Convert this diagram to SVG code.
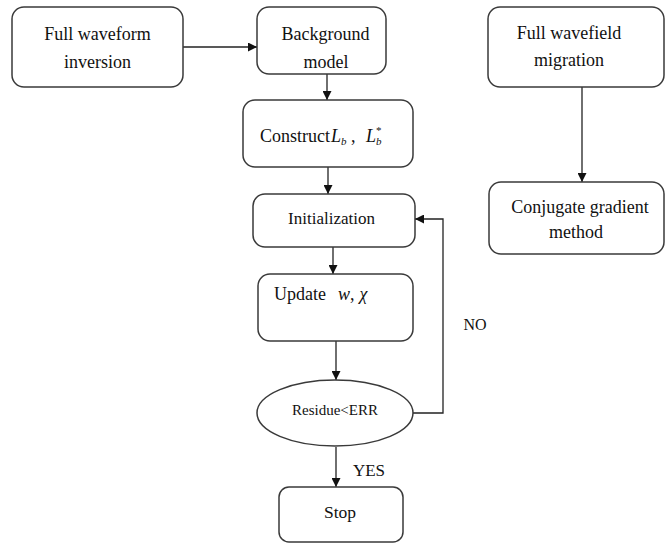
<svg xmlns="http://www.w3.org/2000/svg" width="665" height="543" viewBox="0 0 665 543">
<style>
.box{fill:#fff;stroke:#3a3a3a;stroke-width:1.5}
.t{font-family:'Liberation Serif','DejaVu Serif',serif;font-size:18px;fill:#111;text-anchor:middle}
.s{text-anchor:start}
.i{font-style:italic}
.c{fill:none;stroke:#222;stroke-width:1.3}
</style>
<defs>
<marker id="a" viewBox="0 0 10 10" refX="10" refY="5" markerWidth="9" markerHeight="9" markerUnits="userSpaceOnUse" orient="auto">
<path d="M0,0 L10,5 L0,10 z" fill="#111"/>
</marker>
</defs>
<rect width="665" height="543" fill="#fff"/>
<g id="connectors">
<line class="c" x1="183" y1="47" x2="257" y2="47" marker-end="url(#a)"/>
<line class="c" x1="327" y1="74" x2="327" y2="100" marker-end="url(#a)"/>
<line class="c" x1="328" y1="167" x2="328" y2="194" marker-end="url(#a)"/>
<line class="c" x1="333" y1="247" x2="333" y2="274" marker-end="url(#a)"/>
<line class="c" x1="336" y1="341" x2="336" y2="380" marker-end="url(#a)"/>
<line class="c" x1="336" y1="447" x2="336" y2="487" marker-end="url(#a)"/>
<polyline class="c" points="413,413 443,413 443,219 415,219" marker-end="url(#a)"/>
<line class="c" x1="582" y1="87" x2="582" y2="182" marker-end="url(#a)"/>
<text class="t" x="369" y="476" style="font-size:17px">YES</text>
<text class="t" x="475" y="330" style="font-size:16px">NO</text>
</g>
<g id="n1">
<rect class="box" x="12" y="7" width="171" height="80" rx="12"/>
<text class="t" x="97.5" y="40">Full waveform</text>
<text class="t" x="97.5" y="68">inversion</text>
</g>
<g id="n2">
<rect class="box" x="257" y="7" width="129" height="67" rx="12"/>
<text class="t" x="325.5" y="40">Background</text>
<text class="t" x="326" y="68">model</text>
</g>
<g id="n3">
<rect class="box" x="243" y="100" width="170" height="67" rx="12"/>
<text class="t s" x="260" y="142">Construct<tspan class="i" x="331">L</tspan><tspan class="i" style="font-size:11px" dy="3">b</tspan><tspan dy="-3"> , </tspan><tspan class="i" x="366">L</tspan><tspan style="font-size:11px" dy="-8">*</tspan><tspan class="i" style="font-size:11px" x="376" dy="11">b</tspan></text>
</g>
<g id="n4">
<rect class="box" x="253" y="194" width="162" height="53" rx="12"/>
<text class="t" x="331.5" y="224" style="font-size:17px">Initialization</text>
</g>
<g id="n5">
<rect class="box" x="258" y="274" width="155" height="67" rx="12"/>
<text class="t s" x="274" y="300">Update<tspan class="i" x="338">w</tspan>,<tspan class="i" dx="5">χ</tspan></text>
</g>
<g id="n6">
<ellipse class="box" cx="335" cy="413" rx="78" ry="33"/>
<text class="t" x="335" y="415" style="font-size:15px">Residue&lt;ERR</text>
</g>
<g id="n7">
<rect class="box" x="279" y="487" width="124" height="55" rx="10"/>
<text class="t" x="340" y="518" style="font-size:17.5px">Stop</text>
</g>
<g id="n8">
<rect class="box" x="488" y="7" width="176" height="80" rx="12"/>
<text class="t" x="569" y="39">Full wavefield</text>
<text class="t" x="569" y="66">migration</text>
</g>
<g id="n9">
<rect class="box" x="489" y="182" width="175" height="72" rx="12"/>
<text class="t" x="580" y="213">Conjugate gradient</text>
<text class="t" x="576" y="238">method</text>
</g>
</svg>
